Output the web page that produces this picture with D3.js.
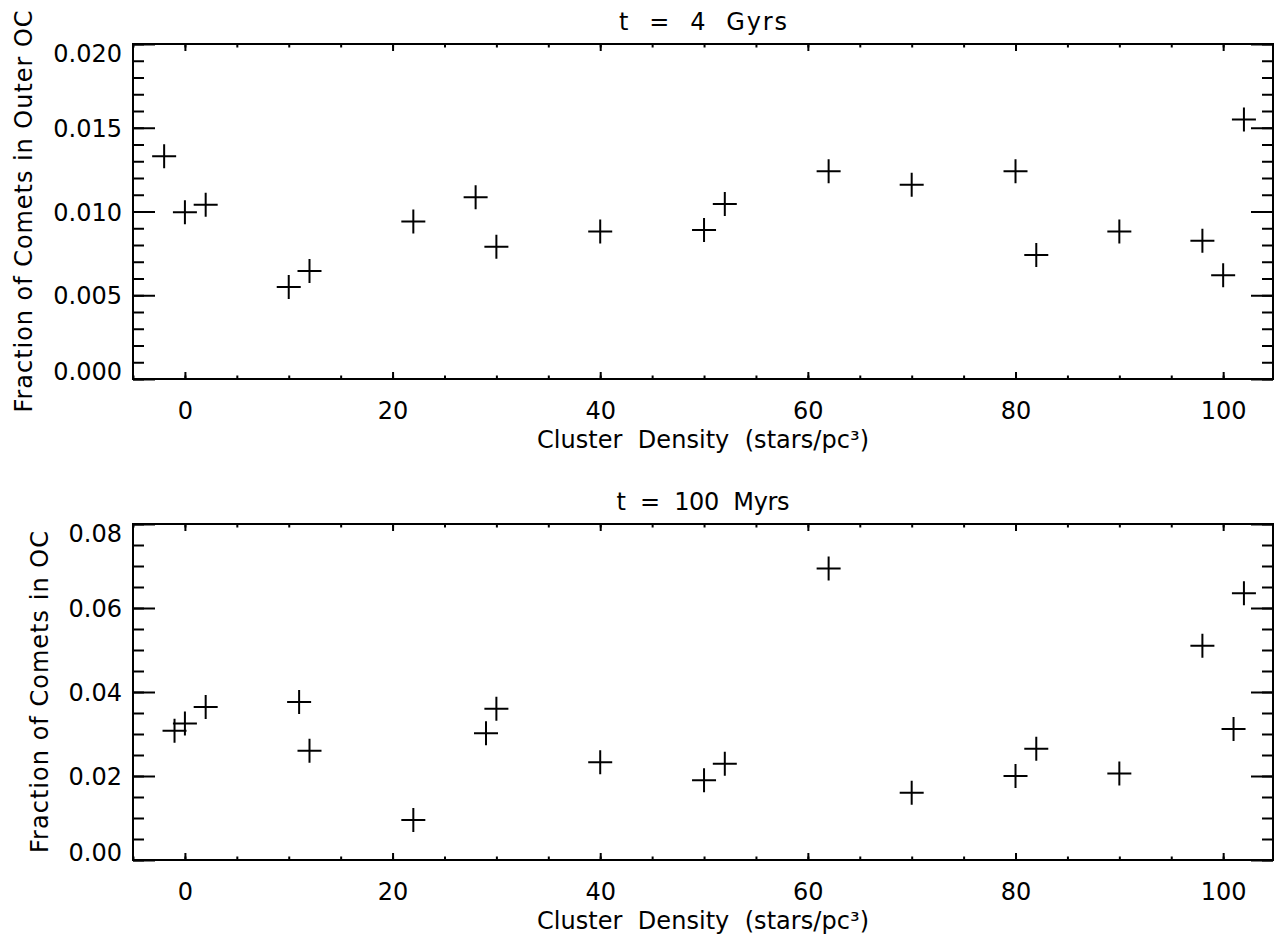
<!DOCTYPE html>
<html>
<head>
<meta charset="utf-8">
<script src="https://cdn.jsdelivr.net/npm/d3@7"></script>
<style>
  body { margin: 0; background: #fff; }
  text { font-family: "DejaVu Sans", sans-serif; fill: #000; white-space: pre; }
</style>
</head>
<body>
<svg id="chart" width="1283" height="940"></svg>
<script>
// data
const densityTop = [-2, 0, 2, 10, 12, 22, 28, 30, 40, 50, 52, 62, 70, 80, 82, 90, 98, 100, 102];
const fracTop = [0.0133, 0.00995, 0.0104, 0.0055, 0.00645, 0.0094, 0.01085, 0.0079, 0.0088, 0.0089,
                 0.01045, 0.0124, 0.0116, 0.0124, 0.0074, 0.0088, 0.00825, 0.0062, 0.0155];

const densityBottom = [-1, 0, 2, 11, 12, 22, 29, 30, 40, 50, 52, 62, 70, 80, 82, 90, 98, 101, 102];
const fracBottom = [0.0308, 0.0325, 0.0364, 0.0376, 0.0260, 0.0095, 0.0302, 0.0360, 0.0233, 0.0190,
                    0.0229, 0.0694, 0.0160, 0.0200, 0.0265, 0.0206, 0.0510, 0.0312, 0.0635];

const xTicks = [0, 20, 40, 60, 80, 100];
const yTicksTop = [0, 0.005, 0.010, 0.015, 0.020];
const yTicksBottom = [0, 0.02, 0.04, 0.06, 0.08];

const svg = d3.select("#chart");
svg.append("rect").attr("width", 1283).attr("height", 940).attr("fill", "#fff");

const left = 133, right = 1273;
const fontSize = 24;

function minorTicks(lo, hi, step) {
    const out = [];
    const n = Math.round((hi - lo) / step);
    for (let i = 0; i <= n; i++) out.push(+(lo + i * step).toFixed(6));
    return out;
}

function drawPanel(cfg) {
    const { top, bottom, xs, ys, yTicks, yMax, yStep, yFmt, title, titleLen, yTitle, yTitleLen, yTitleX } = cfg;

    const x = d3.scaleLinear().domain([-5, 104.8]).range([left, right]);
    const y = d3.scaleLinear().domain([0, yMax]).range([bottom, top]);

    const g = svg.append("g");
    const h = bottom - top;
    const xTick = 7, yTick = 22;

    const xMinor = minorTicks(-5, 100, 5);
    const yMinor = minorTicks(0, yMax, yStep);

    // bottom axis
    g.append("g").attr("transform", `translate(0,${bottom})`)
        .call(d3.axisBottom(x).tickValues(xTicks).tickSize(-xTick).tickPadding(23).tickFormat(d3.format("d")));
    g.append("g").attr("transform", `translate(0,${bottom})`)
        .call(d3.axisBottom(x).tickValues(xMinor).tickSize(-xTick / 2).tickFormat(""));
    // top axis
    g.append("g").attr("transform", `translate(0,${top})`)
        .call(d3.axisTop(x).tickValues(xTicks).tickSize(-xTick).tickFormat(""));
    g.append("g").attr("transform", `translate(0,${top})`)
        .call(d3.axisTop(x).tickValues(xMinor).tickSize(-xTick / 2).tickFormat(""));
    // left axis
    const ly = g.append("g").attr("transform", `translate(${left},0)`)
        .call(d3.axisLeft(y).tickValues(yTicks).tickSize(-yTick).tickPadding(11).tickFormat(d3.format(yFmt)));
    g.append("g").attr("transform", `translate(${left},0)`)
        .call(d3.axisLeft(y).tickValues(yMinor).tickSize(-yTick / 2).tickFormat(""));
    // right axis
    g.append("g").attr("transform", `translate(${right},0)`)
        .call(d3.axisRight(y).tickValues(yTicks).tickSize(-yTick).tickFormat(""));
    g.append("g").attr("transform", `translate(${right},0)`)
        .call(d3.axisRight(y).tickValues(yMinor).tickSize(-yTick / 2).tickFormat(""));

    g.selectAll(".domain").remove();
    g.selectAll(".tick line").attr("stroke", "#000").attr("stroke-width", 2);
    g.selectAll(".tick text").style("font-size", fontSize + "px").style("font-family", "DejaVu Sans").attr("fill", "#000");

    // end labels on the y axis are pulled inside the axis range
    ly.selectAll(".tick text").attr("dy", d => d === 0 ? "0em" : (d === yMax ? "0.73em" : "0.36em"));

    // frame
    g.append("rect")
        .attr("x", left).attr("y", top)
        .attr("width", right - left).attr("height", h)
        .attr("fill", "none").attr("stroke", "#000").attr("stroke-width", 2);

    // plus markers
    g.append("g").selectAll("path")
        .data(xs.map((d, i) => [d, ys[i]]))
        .join("path")
        .attr("transform", d => `translate(${x(d[0])},${y(d[1])})`)
        .attr("d", "M-12,0H12M0,-12V12")
        .attr("stroke", "#000").attr("stroke-width", 2).attr("fill", "none");

    // titles
    g.append("text")
        .attr("x", (left + right) / 2).attr("y", top - 14)
        .attr("text-anchor", "middle")
        .attr("textLength", titleLen).attr("lengthAdjust", "spacing")
        .style("font-size", fontSize + "px")
        .text(title);

    g.append("text")
        .attr("x", (left + right) / 2).attr("y", bottom + 69)
        .attr("text-anchor", "middle")
        .attr("textLength", 332).attr("lengthAdjust", "spacing")
        .style("font-size", fontSize + "px")
        .text("Cluster  Density  (stars/pc³)");

    g.append("text")
        .attr("transform", `translate(${yTitleX},${(top + bottom) / 2}) rotate(-90)`)
        .attr("text-anchor", "middle")
        .attr("textLength", yTitleLen).attr("lengthAdjust", "spacing")
        .style("font-size", fontSize + "px")
        .text(yTitle);
}

drawPanel({
    top: 44, bottom: 379, xs: densityTop, ys: fracTop,
    yTicks: yTicksTop, yMax: 0.020, yStep: 0.001, yFmt: ".3f",
    title: "t  =  4  Gyrs", titleLen: 168,
    yTitle: "Fraction of Comets in Outer OC", yTitleLen: 402, yTitleX: 32
});

drawPanel({
    top: 524, bottom: 860, xs: densityBottom, ys: fracBottom,
    yTitleX: 48,
    yTicks: yTicksBottom, yMax: 0.08, yStep: 0.005, yFmt: ".2f",
    title: "t  =  100  Myrs", titleLen: 173,
    yTitle: "Fraction of Comets in OC", yTitleLen: 322
});
</script>
</body>
</html>
